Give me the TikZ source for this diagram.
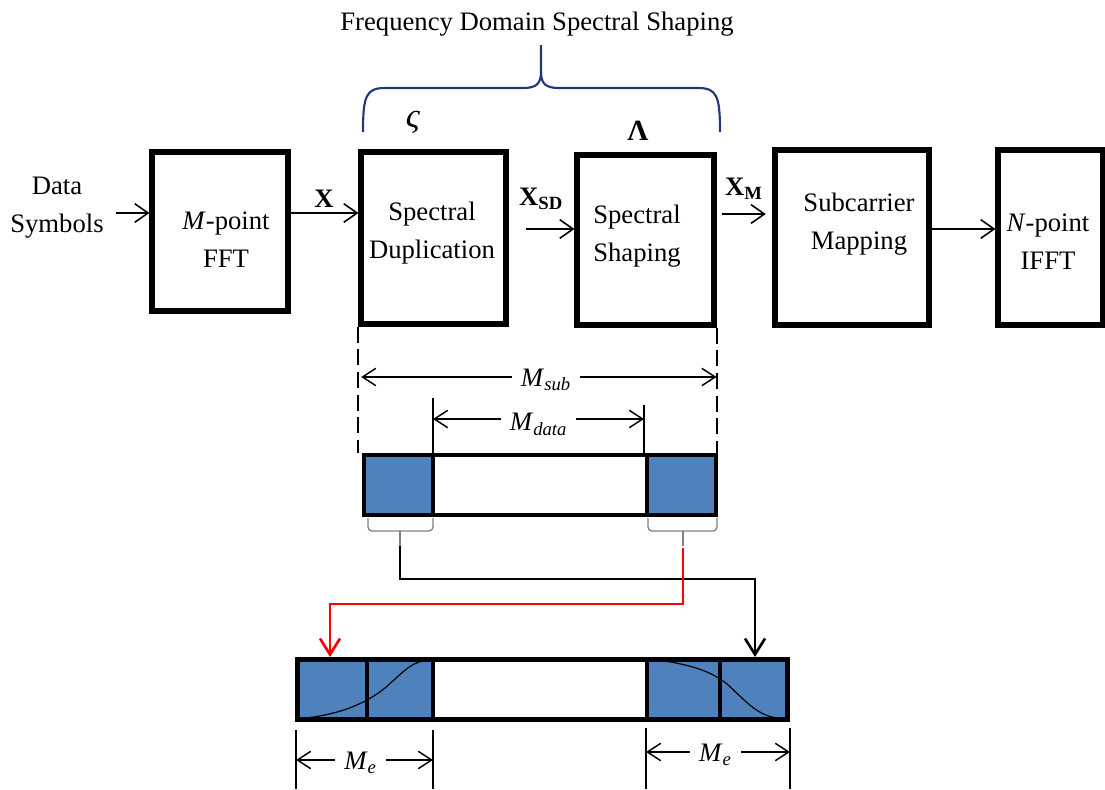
\documentclass[tikz,border=0pt]{standalone}
\usepackage{fontspec}
\setmainfont{Liberation Serif}
\usetikzlibrary{arrows.meta,calc}
\definecolor{barblue}{RGB}{79,129,189}
\definecolor{bracecol}{RGB}{31,56,120}
\newcommand{\mlab}[2]{\textit{#1}\textsubscript{\textit{#2}}}
\begin{document}
\begin{tikzpicture}[x=0.75pt,y=-0.75pt,
  blk/.style={draw, line width=3.8pt, inner sep=0pt},
  txt/.style={font=\fontsize{20}{28.5}\selectfont, align=center, inner sep=0pt},
  lbl/.style={font=\fontsize{20}{24}\selectfont\bfseries, inner sep=0pt},
  mlbl/.style={font=\fontsize{20}{24}\selectfont, inner ysep=1pt, inner xsep=7pt, fill=white},
  arr/.style={line width=1.2pt, -{Straight Barb[length=10pt,width=14pt,line width=1.2pt]}},
  dimarr/.style={line width=1.1pt, {Straight Barb[length=10pt,width=13pt,line width=1.1pt]}-{Straight Barb[length=10pt,width=13pt,line width=1.1pt]}},
  tick/.style={line width=0.9pt},
  barline/.style={line width=3.4pt},
  conn/.style={line width=2pt, -{Straight Barb[length=12pt,width=15pt,line width=2pt]}},
  gbrace/.style={draw=gray, line width=1pt, rounded corners=3pt},
  dashv/.style={line width=1.5pt, dash pattern=on 12pt off 5pt}
]
\useasboundingbox (0,0) rectangle (1105,789);

% title and brace
\node[txt, anchor=base] (title) at (537,30) {Frequency Domain Spectral Shaping};
\draw[bracecol, line width=1.6pt] (363,132) .. controls (363,96) and (366,88) .. (385,88) -- (523,88)
  .. controls (536,88) and (541,84) .. (541,72) -- (541,45);
\draw[bracecol, line width=1.6pt] (720,132) .. controls (720,96) and (717,88) .. (698,88) -- (559,88)
  .. controls (546,88) and (541,84) .. (541,72);
\node[font=\fontsize{26}{30}\selectfont\itshape, inner sep=0pt] (zeta) at (413,122) {ς};
\node[font=\fontsize{22}{26}\selectfont\bfseries, inner sep=0pt] (lam) at (638,131) {Λ};

% blocks
\node[blk, minimum width=102pt, minimum height=119.25pt] (fft) at (220,231.5) {};
\node[blk, minimum width=108.75pt, minimum height=129pt] (sd) at (433.5,238) {};
\node[blk, minimum width=102.75pt, minimum height=127.5pt] (ss) at (645.5,240) {};
\node[blk, minimum width=115.5pt, minimum height=131.25pt] (sm) at (852,237.5) {};
\node[blk, minimum width=78.75pt, minimum height=131.25pt] (ifft) at (1050.5,237.5) {};

\node[txt] (ds) at (57,208) {Data\\Symbols};
\node[txt] (tfft) at (226,240) {\textit{M}-point\\FFT};
\node[txt] (tsd) at (432,233) {Spectral\\Duplication};
\node[txt] (tss) at (637,236) {Spectral\\Shaping};
\node[txt] (tsm) at (859,224) {Subcarrier\\Mapping};
\node[txt] (tifft) at (1048,242) {\textit{N}-point\\IFFT};

% arrows between blocks
\coordinate (ya) at (0,213);
\coordinate (yb) at (0,229);
\coordinate (yc) at (0,214);
\draw[arr] ([xshift=9pt]ds.east |- ya) -- (fft.west |- ya);
\draw[arr] (fft.east |- ya) -- (sd.west |- ya);
\draw[arr] ([xshift=13pt]sd.east |- yb) -- (ss.west |- yb);
\draw[arr] ([xshift=4pt]ss.east |- yc) -- ([xshift=-5pt]sm.west |- yc);
\draw[arr] (sm.east |- yb) -- (ifft.west |- yb);

\node[lbl, anchor=base] (lx) at (324,207) {X};
\node[lbl, anchor=base] (lxsd) at (541,205) {X\textsubscript{SD}};
\node[lbl, anchor=base] (lxm) at (744,195) {X\textsubscript{M}};

% bar 1
\fill[barblue] (364,455) rectangle (433,515);
\fill[barblue] (647,455) rectangle (716,515);
\draw[barline] (364,455) rectangle (716,515);
\draw[barline] (433,455) -- (433,515);
\draw[barline] (647,455) -- (647,515);
\coordinate (b1l) at (361,453);
\coordinate (b1r) at (716,453);

\draw[dashv] (sd.south west) -- (sd.south west |- b1l);
\draw[dashv] (ss.south east) -- (ss.south east |- b1r);

% M_sub / M_data
\coordinate (ysub) at (0,377);
\coordinate (ydat) at (0,419);
\draw[dimarr] ([xshift=2pt]sd.south west |- ysub) -- (ss.south east |- ysub)
  node[mlbl, pos=0.52, yshift=-2pt] (msub) {\mlab{M}{sub}};
\draw[tick] (433,398) -- (433,455);
\draw[tick] (644,405) -- (644,455);
\draw[dimarr] (433,419) -- (644,419) node[mlbl, midway, yshift=-4pt] (mdata) {\mlab{M}{data}};

% gray braces under bar 1
\draw[gbrace] (368,518) -- (368,531) -- (433,531) -- (433,518);
\draw[gbrace] (648,518) -- (648,531) -- (717,531) -- (717,518);
\coordinate (lt) at (400,546);
\coordinate (rt) at (683,548);
\draw[draw=gray, line width=1pt] (400,531) -- (lt);
\draw[draw=gray, line width=1pt] (683,531) -- (683,546);

% bar 2
\fill[barblue] (297.5,659.5) rectangle (433,719.5);
\fill[barblue] (647,659.5) rectangle (787.5,719.5);
\draw[line width=0.9pt] (306,718) .. controls (340,714) and (365,704) .. (385,688)
  .. controls (400,675) and (410,663) .. (423,661);
\draw[line width=0.9pt] (665,661) .. controls (695,666) and (712,672) .. (727,684)
  .. controls (745,700) and (757,716) .. (778,718);
\draw[line width=3.6pt] (297.5,659.5) rectangle (787.5,719.5);
\draw[line width=3.6pt] (367,659.5) -- (367,719.5);
\draw[line width=3.6pt] (433,659.5) -- (433,719.5);
\draw[line width=3.6pt] (647,659.5) -- (647,719.5);
\draw[line width=3.6pt] (720,659.5) -- (720,719.5);
\coordinate (tgtR) at (755,657);
\coordinate (tgtL) at (330,657);

% connectors
\draw[conn, black] (lt) -- (400,579) -- (755,579) -- (tgtR);
\draw[conn, red] (rt) -- (683,604) -- (330,604) -- (tgtL);

% M_e dims
\draw[tick] (296,730) -- (296,789);
\draw[tick] (433,730) -- (433,789);
\draw[tick] (646,728) -- (646,789);
\draw[tick] (790,728) -- (790,789);
\draw[dimarr] (296,760) -- (433,760) node[mlbl, midway, xshift=-3pt, yshift=-2pt] (me1) {\mlab{M}{e}};
\draw[dimarr] (646,752) -- (790,752) node[mlbl, midway, xshift=-2pt, yshift=-2pt] (me2) {\mlab{M}{e}};
\end{tikzpicture}
\end{document}
